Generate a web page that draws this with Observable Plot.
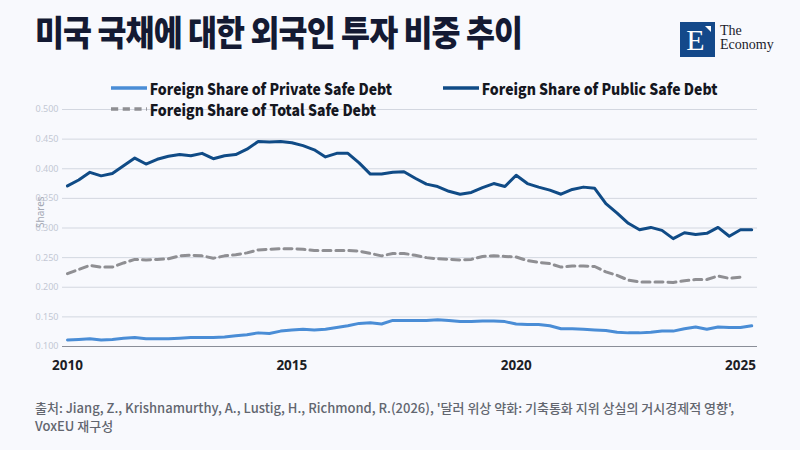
<!DOCTYPE html>
<html>
<head>
<meta charset="utf-8">
<script src="https://cdn.jsdelivr.net/npm/d3@7"></script>
<script src="https://cdn.jsdelivr.net/npm/@observablehq/plot@0.6"></script>
<style>
  html, body { margin: 0; padding: 0; background: #f8f9fd; }
  #wrap { position: relative; width: 800px; height: 450px; overflow: hidden; background: #f8f9fd; font-family: "Noto Sans CJK KR", "Noto Sans", sans-serif; }
  #title { position: absolute; left: 35px; top: 5px; font-size: 35px; font-weight: 900; color: #141a33; letter-spacing: -1px; white-space: nowrap; transform: scaleX(0.9); transform-origin: left top; }
  #logo { position: absolute; left: 680px; top: 22px; width: 35px; height: 35px; background: #14498a; }
  #logo .e { position: absolute; left: -2px; top: 0; width: 35px; height: 35px; line-height: 36px; text-align: center; color: #fff; font-family: "Liberation Serif", "DejaVu Serif", serif; font-size: 30px; }
  #logo .tri { position: absolute; right: 4px; top: 4px; width: 0; height: 0; border-left: 6px solid transparent; border-top: 6px solid #fff; }
  #logoText { position: absolute; left: 720px; top: 24px; font-family: "Liberation Serif", "DejaVu Serif", serif; font-size: 14px; line-height: 14px; color: #1b1b2b; }
  #chart { position: absolute; left: 0; top: 90px; }
  .leg { position: absolute; font-size: 15.6px; font-weight: 800; color: #15171f; white-space: nowrap; display: flex; align-items: center; transform: scaleX(0.9); transform-origin: left center; }
  .leg svg { margin-right: 3px; }
  .cap { position: absolute; left: 35px; font-size: 13px; line-height: 15px; font-weight: 500; color: #62666f; white-space: nowrap; }
</style>
</head>
<body>
<div id="wrap">
  <div id="title">미국 국채에 대한 외국인 투자 비중 추이</div>
  <div id="logo"><div class="e">E</div><div class="tri"></div></div>
  <div id="logoText">The<br>Economy</div>
  <div id="chart"></div>
  <div id="legend"></div>
  <div class="cap" style="top:400px">출처: Jiang, Z., Krishnamurthy, A., Lustig, H., Richmond, R.(2026), '달러 위상 약화: 기축통화 지위 상실의 거시경제적 영향',</div>
  <div class="cap" style="top:418px">VoxEU 재구성</div>
</div>
<script>
// Quarterly observations starting 2010 Q1
const startYear = 2010;
const seriesNames = ["Foreign Share of Private Safe Debt", "Foreign Share of Public Safe Debt", "Foreign Share of Total Safe Debt"];
const privateShare = [
  0.111,0.112,0.113,0.111,0.112,0.114,0.115,0.113,0.113,0.113,
  0.114,0.115,0.115,0.115,0.116,0.118,0.120,0.123,0.122,0.126,
  0.128,0.129,0.128,0.129,0.132,0.135,0.139,0.140,0.138,0.144,
  0.144,0.144,0.144,0.145,0.144,0.142,0.142,0.143,0.143,0.142,
  0.138,0.137,0.137,0.135,0.130,0.130,0.129,0.128,0.127,0.124,
  0.123,0.123,0.124,0.126,0.126,0.130,0.133,0.129,0.133,0.132,
  0.132,0.135
];
const publicShare = [
  0.371,0.381,0.394,0.388,0.392,0.405,0.418,0.408,0.416,0.421,
  0.424,0.422,0.426,0.417,0.422,0.424,0.433,0.446,0.445,0.446,
  0.444,0.439,0.432,0.420,0.426,0.426,0.410,0.391,0.391,0.394,
  0.395,0.384,0.374,0.370,0.362,0.357,0.360,0.368,0.375,0.370,
  0.389,0.375,0.369,0.364,0.357,0.365,0.369,0.367,0.341,0.325,
  0.308,0.297,0.301,0.296,0.282,0.292,0.289,0.291,0.301,0.286,
  0.297,0.297
];
const totalShare = [
  0.223,0.230,0.237,0.234,0.234,0.241,0.247,0.246,0.247,0.248,
  0.253,0.254,0.253,0.249,0.253,0.255,0.258,0.263,0.264,0.265,
  0.265,0.264,0.262,0.262,0.262,0.262,0.261,0.257,0.253,0.257,
  0.257,0.254,0.250,0.248,0.247,0.246,0.247,0.252,0.253,0.252,
  0.251,0.245,0.242,0.240,0.234,0.236,0.236,0.235,0.226,0.220,
  0.212,0.209,0.209,0.209,0.208,0.211,0.213,0.213,0.219,0.215,
  0.217
];
const yearTicks = [2010, 2015, 2020, 2025];
const shareTicks = [0.100,0.150,0.200,0.250,0.300,0.350,0.400,0.450,0.500];
const yLabel = "Shares";

const colors = ["#4a8dd6", "#104b86", "#8f8f93"];

const toRows = (arr, name) => arr.map((v, i) => ({date: startYear + i / 4, value: v, series: name}));
const privRows = toRows(privateShare, seriesNames[0]);
const pubRows = toRows(publicShare, seriesNames[1]);
const totRows = toRows(totalShare, seriesNames[2]);

const chart = Plot.plot({
  width: 800,
  height: 290,
  marginLeft: 62,
  marginRight: 43,
  marginTop: 19,
  marginBottom: 34,
  style: {background: "transparent", fontFamily: "'Noto Sans', sans-serif"},
  x: {domain: [2009.889, 2025.379]},
  y: {domain: [0.1, 0.5]},
  marks: [
    Plot.ruleY(shareTicks.slice(1), {stroke: "#d3d7e0", strokeWidth: 1}),
    Plot.ruleY([0.1], {stroke: "#8a8e98", strokeWidth: 1.2}),
    Plot.axisY({ticks: shareTicks, tickFormat: d3.format(".3f"), tickSize: 0, tickPadding: 4, fontSize: 9, color: "#c3c8d4", label: null}),
    Plot.text([yLabel], {frameAnchor: "left", dx: -22, rotate: -90, text: d => d, fontSize: 10, fill: "#a3a8b4"}),
    Plot.axisX({ticks: yearTicks, tickFormat: d => String(d), tickSize: 0, tickPadding: 14, fontSize: 13.5, fontWeight: 700, color: "#1c1e26", label: null}),
    Plot.line(totRows, {x: "date", y: "value", stroke: colors[2], strokeWidth: 3, strokeDasharray: "8,5", curve: "linear"}),
    Plot.line(privRows, {x: "date", y: "value", stroke: colors[0], strokeWidth: 3, curve: "linear"}),
    Plot.line(pubRows, {x: "date", y: "value", stroke: colors[1], strokeWidth: 3, curve: "linear"})
  ]
});
document.getElementById("chart").appendChild(chart);

// legend
const legendPos = [[111, 88], [443, 88], [111, 109]];
const legend = document.getElementById("legend");
seriesNames.forEach((name, k) => {
  const d = document.createElement("div");
  d.className = "leg";
  d.style.left = legendPos[k][0] + "px";
  d.style.top = (legendPos[k][1] - 11) + "px";
  d.style.height = "22px";
  const dash = k === 2 ? 'stroke-dasharray="8,5"' : "";
  d.innerHTML = `<svg width="40" height="6"><line x1="0" y1="3" x2="40" y2="3" stroke="${colors[k]}" stroke-width="3.5" ${dash}/></svg><span>${name}</span>`;
  legend.appendChild(d);
});
</script>
</body>
</html>
